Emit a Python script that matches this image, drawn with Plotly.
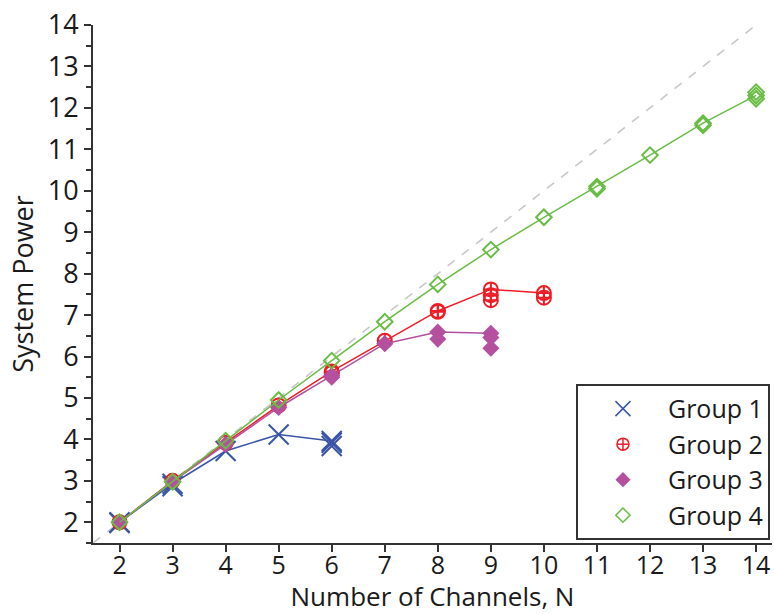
import plotly.graph_objects as go

# ---------------- data ----------------
ref_x = [1.5, 14.5]
ref_y = [1.5, 14.5]

g1_x = [2, 3, 4, 5, 6]
g1_y = [2.0, 2.93, 3.72, 4.12, 3.96]
g1_extra_x = [2, 3, 6, 6]
g1_extra_y = [1.98, 2.87, 3.84, 3.92]

g2_x = [2, 3, 4, 5, 6, 7, 8, 9, 10]
g2_y = [2.0, 3.0, 3.92, 4.82, 5.64, 6.38, 7.1, 7.62, 7.53]
g2_extra_x = [6, 8, 9, 9, 10]
g2_extra_y = [5.6, 7.08, 7.48, 7.36, 7.42]

g3_x = [2, 3, 4, 5, 6, 7, 8, 9]
g3_y = [2.0, 2.98, 3.88, 4.77, 5.54, 6.31, 6.59, 6.56]
g3_extra_x = [6, 8, 9, 9]
g3_extra_y = [5.5, 6.42, 6.46, 6.2]

g4_x = [2, 3, 4, 5, 6, 7, 8, 9, 10, 11, 12, 13, 14]
g4_y = [2.0, 2.98, 3.97, 4.95, 5.9, 6.84, 7.74, 8.58, 9.36, 10.1, 10.86, 11.63, 12.3]
g4_extra_x = [11, 13, 14, 14]
g4_extra_y = [10.05, 11.58, 12.38, 12.22]

names = ["Group 1", "Group 2", "Group 3", "Group 4"]
x_ticks = list(range(2, 15))
y_ticks = list(range(2, 15))

# ---------------- styles ----------------
colors = ["#3a55a6", "#ee1c25", "#b5509e", "#69bd45"]
symbols = ["x-thin-open", "circle-cross-open", "diamond", "diamond-open"]
sizes = [20, 14, 11, 12]
leg_sizes = [15, 12, 10, 11]
FONT = "Open Sans"
TXT = "#1a1a1a"

fig = go.Figure()

fig.add_trace(go.Scatter(x=ref_x, y=ref_y, mode="lines",
                         line=dict(color="#c8c8c8", width=1.6, dash="dash"),
                         showlegend=False, hoverinfo="skip"))

groups = [(g1_x, g1_y, g1_extra_x, g1_extra_y),
          (g2_x, g2_y, g2_extra_x, g2_extra_y),
          (g3_x, g3_y, g3_extra_x, g3_extra_y),
          (g4_x, g4_y, g4_extra_x, g4_extra_y)]

for i, (gx, gy, ex, ey) in enumerate(groups):
    mk = dict(symbol=symbols[i], size=sizes[i], color=colors[i],
              line=dict(color=colors[i], width=2))
    fig.add_trace(go.Scatter(x=gx, y=gy, mode="lines+markers",
                             line=dict(color=colors[i], width=1.5),
                             marker=mk, showlegend=False))
    fig.add_trace(go.Scatter(x=ex, y=ey, mode="markers",
                             marker=mk, showlegend=False))
    fig.add_trace(go.Scatter(x=[None], y=[None], mode="markers", name=names[i],
                             marker=dict(symbol=symbols[i], size=leg_sizes[i], color=colors[i],
                                         line=dict(color=colors[i], width=1.5)),
                             showlegend=True))

axis_common = dict(showline=True, linecolor="#333333", linewidth=2, mirror=False,
                   showgrid=False, zeroline=False, ticks="outside", tickcolor="#333333",
                   tickwidth=1.5, ticklen=7)

fig.update_layout(
    width=774, height=614,
    margin=dict(l=93, r=2, t=25, b=71),
    paper_bgcolor="white", plot_bgcolor="white",
    font=dict(family=FONT, size=26, color=TXT),
    xaxis=dict(range=[1.5, 14.3], tickvals=x_ticks,
               tickfont=dict(family=FONT, size=25, color=TXT),
               ticklabelstandoff=-8,
               title=dict(text="Number of Channels, N", standoff=4,
                          font=dict(family=FONT, size=26, color=TXT)),
               **axis_common),
    yaxis=dict(range=[1.5, 14], tickvals=y_ticks,
               tickfont=dict(family=FONT, size=27, color=TXT),
               minor=dict(tickvals=[v + 0.5 for v in y_ticks[:-1]] + [1.5], ticks="outside",
                          ticklen=5, tickcolor="#333333", tickwidth=1.5),
               title=dict(text="System Power", standoff=6,
                          font=dict(family=FONT, size=27, color=TXT)),
               **axis_common),
    legend=dict(x=0.997, y=0.006, xanchor="right", yanchor="bottom",
                bordercolor="#333333", borderwidth=2, bgcolor="white",
                font=dict(family=FONT, size=25, color=TXT),
                itemwidth=80, tracegroupgap=0),
)

fig.write_html("out.html")
